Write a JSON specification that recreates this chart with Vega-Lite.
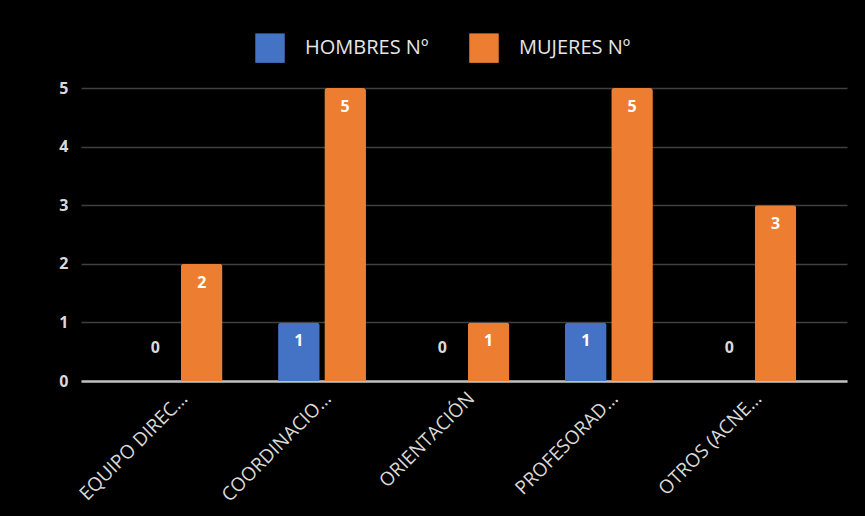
{
  "$schema": "https://vega.github.io/schema/vega-lite/v6.json",
  "width": 766,
  "height": 293,
  "autosize": {"type": "none"},
  "padding": {"left": 81, "top": 88, "right": 18, "bottom": 135},
  "background": "#000000",
  "config": {
    "view": {"stroke": null},
    "font": "Open Sans"
  },
  "data": {
    "values": [
      {"categoria": "EQUIPO DIREC…", "grupo": "HOMBRES Nº", "valor": 0},
      {"categoria": "EQUIPO DIREC…", "grupo": "MUJERES Nº", "valor": 2},
      {"categoria": "COORDINACIO…", "grupo": "HOMBRES Nº", "valor": 1},
      {"categoria": "COORDINACIO…", "grupo": "MUJERES Nº", "valor": 5},
      {"categoria": "ORIENTACIÓN", "grupo": "HOMBRES Nº", "valor": 0},
      {"categoria": "ORIENTACIÓN", "grupo": "MUJERES Nº", "valor": 1},
      {"categoria": "PROFESORAD…", "grupo": "HOMBRES Nº", "valor": 1},
      {"categoria": "PROFESORAD…", "grupo": "MUJERES Nº", "valor": 5},
      {"categoria": "OTROS (ACNE…", "grupo": "HOMBRES Nº", "valor": 0},
      {"categoria": "OTROS (ACNE…", "grupo": "MUJERES Nº", "valor": 3}
    ]
  },
  "encoding": {
    "x": {
      "field": "categoria",
      "type": "nominal",
      "sort": null,
      "scale": {"paddingInner": 0, "paddingOuter": 0.17, "align": 0.53},
      "axis": {
        "title": null,
        "labelAngle": -45,
        "labelAlign": "right",
        "labelBaseline": "middle",
        "labelColor": "#d9d9d9",
        "labelFontSize": 19,
        "labelPadding": 14,
        "labelOffset": 6,
        "labelLimit": 300,
        "ticks": false,
        "domainColor": "#bfbfbf",
        "domainWidth": 2.5,
        "grid": false
      }
    },
    "xOffset": {
      "field": "grupo",
      "type": "nominal",
      "sort": ["HOMBRES Nº", "MUJERES Nº"],
      "scale": {"paddingInner": 0.1, "paddingOuter": 0.6}
    },
    "y": {
      "field": "valor",
      "type": "quantitative",
      "scale": {"domain": [0, 5], "nice": false},
      "axis": {
        "title": null,
        "values": [0, 1, 2, 3, 4, 5],
        "labelColor": "#d9d9d9",
        "labelFontSize": 16,
        "labelFontWeight": "bold",
        "labelPadding": 13,
        "ticks": false,
        "domain": false,
        "gridColor": "#404040",
        "gridWidth": 1.5
      }
    }
  },
  "layer": [
    {
      "mark": {"type": "bar", "cornerRadiusTopLeft": 3, "cornerRadiusTopRight": 3},
      "encoding": {
        "color": {
          "field": "grupo",
          "type": "nominal",
          "scale": {"domain": ["HOMBRES Nº", "MUJERES Nº"], "range": ["#4472C4", "#ED7D31"]},
          "legend": {
            "title": null,
            "orient": "none",
            "legendX": 174,
            "legendY": -55,
            "direction": "horizontal",
            "symbolType": "square",
            "symbolSize": 870,
            "symbolStrokeWidth": 0,
            "labelFontSize": 20,
            "labelColor": "#e6e6e6",
            "labelOffset": 20,
            "columnPadding": 40
          }
        }
      }
    },
    {
      "transform": [{"filter": "datum.valor > 0"}],
      "mark": {"type": "text", "dy": 19, "baseline": "middle", "color": "#ffffff", "fontSize": 16, "fontWeight": "bold"},
      "encoding": {"text": {"field": "valor", "type": "quantitative"}}
    },
    {
      "transform": [{"filter": "datum.valor == 0"}],
      "mark": {"type": "text", "dy": -33, "baseline": "middle", "color": "#d9d9d9", "fontSize": 16, "fontWeight": "bold"},
      "encoding": {"text": {"field": "valor", "type": "quantitative"}}
    }
  ]
}
